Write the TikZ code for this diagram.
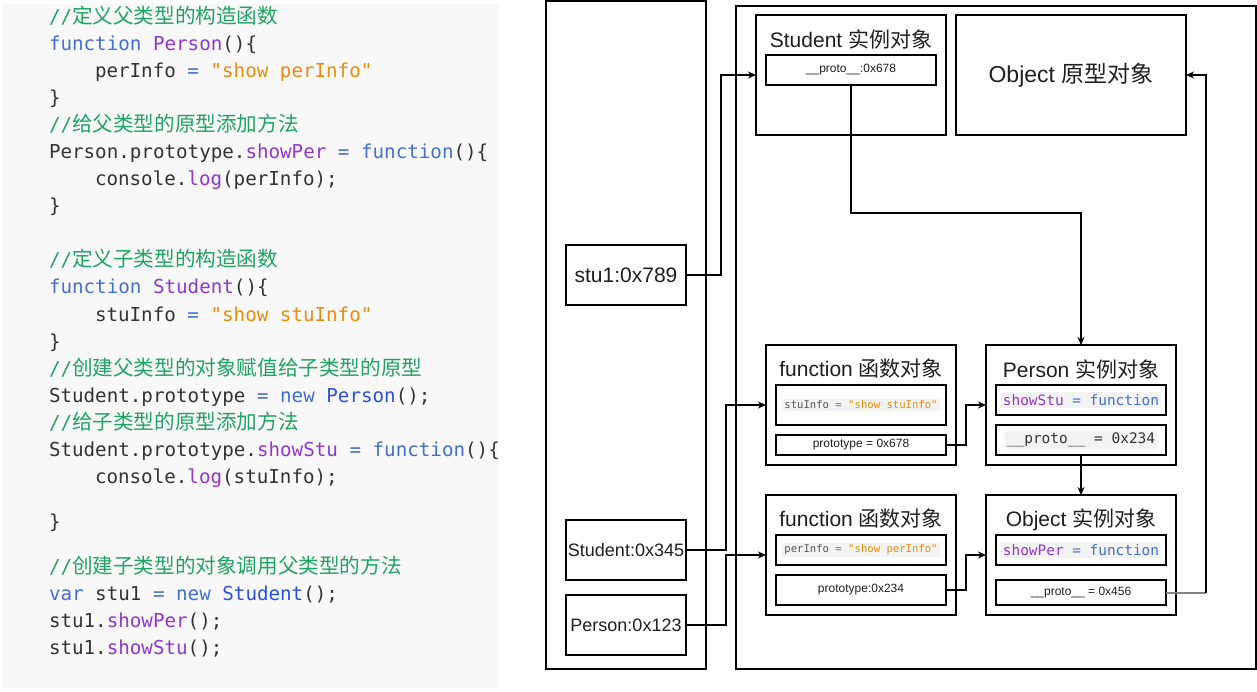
\documentclass[tikz,border=0pt]{standalone}
\usepackage{fontspec}
\setmainfont{Liberation Sans}
\setmonofont{DejaVu Sans Mono}
\newfontfamily\cjk{Noto Sans CJK SC}
\usetikzlibrary{arrows.meta}
\definecolor{codebg}{HTML}{F8F8F8}
\definecolor{snipbg}{HTML}{F3F3F3}
\definecolor{codetxt}{HTML}{333333}
\definecolor{cmgreen}{HTML}{1FA463}
\definecolor{kwblue}{HTML}{4170D0}
\definecolor{fnpurple}{HTML}{9236CC}
\definecolor{clblue}{HTML}{2750E0}
\definecolor{stor}{HTML}{E88B0A}
\definecolor{snipgray}{HTML}{555555}
\newcommand\cKw[1]{\textcolor{kwblue}{#1}}
\newcommand\cFn[1]{\textcolor{fnpurple}{#1}}
\newcommand\cCl[1]{\textcolor{clblue}{#1}}
\newcommand\cSt[1]{\textcolor{stor}{#1}}
\newcommand\cCm[1]{\textcolor{cmgreen}{//{\cjk\fontsize{20.6}{20.6}\selectfont #1}}}
\begin{document}
\begin{tikzpicture}[x=1pt,y=-1pt,
  codeline/.style={anchor=base west, inner sep=0, outer sep=0, text=codetxt,
    font=\ttfamily\fontsize{19.2}{19.2}\selectfont},
  box/.style={draw=black, line width=1.2pt, inner sep=0, outer sep=0, fill=white},
  titletxt/.style={inner sep=0, text=black!88, font=\fontsize{21}{21}\selectfont},
  smalltxt/.style={inner sep=0, text=black!88, font=\fontsize{12}{12}\selectfont},
  snip/.style={fill=snipbg, inner xsep=2pt, inner ysep=2pt, text=snipgray, font=\ttfamily},
  addrtxt/.style={inner sep=0, text=black!88},
  link/.style={draw=black, line width=1.2pt},
  arr/.style={link, -{Stealth[length=8pt,width=7pt]}}
]
\useasboundingbox (0,0) rectangle (1257,692);
% code panel
\fill[codebg] (2,4) rectangle (498,688);
\node[codeline] (c1) at (49,24) {\cCm{定义父类型的构造函数}};
\node[codeline] (c2) at (49,51) {\cKw{function} \cFn{Person}()\{};
\node[codeline] (c3) at (95,78) {perInfo \cKw{=} \cSt{"show perInfo"}};
\node[codeline] (c4) at (49,105) {\}};
\node[codeline] (c5) at (49,132) {\cCm{给父类型的原型添加方法}};
\node[codeline] (c6) at (49,159) {Person.prototype.\cFn{showPer} \cKw{=} \cKw{function}()\{};
\node[codeline] (c7) at (95,186) {console.\cFn{log}(perInfo);};
\node[codeline] (c8) at (49,213) {\}};
\node[codeline] (c9) at (49,267) {\cCm{定义子类型的构造函数}};
\node[codeline] (c10) at (49,294) {\cKw{function} \cFn{Student}()\{};
\node[codeline] (c11) at (95,321) {stuInfo \cKw{=} \cSt{"show stuInfo"}};
\node[codeline] (c12) at (49,348) {\}};
\node[codeline] (c13) at (49,375) {\cCm{创建父类型的对象赋值给子类型的原型}};
\node[codeline] (c14) at (49,402) {Student.prototype \cKw{=} \cKw{new} \cCl{Person}();};
\node[codeline] (c15) at (49,429) {\cCm{给子类型的原型添加方法}};
\node[codeline] (c16) at (49,456) {Student.prototype.\cFn{showStu} \cKw{=} \cKw{function}()\{};
\node[codeline] (c17) at (95,483) {console.\cFn{log}(stuInfo);};
\node[codeline] (c18) at (49,528) {\}};
\node[codeline] (c19) at (49,573) {\cCm{创建子类型的对象调用父类型的方法}};
\node[codeline] (c20) at (49,600) {\cKw{var} stu1 \cKw{=} \cKw{new} \cCl{Student}();};
\node[codeline] (c21) at (49,627) {stu1.\cFn{showPer}();};
\node[codeline] (c22) at (49,654) {stu1.\cFn{showStu}();};

% panels
\node[box, minimum width=160, minimum height=668] (stack) at (626,335) {};
\node[box, minimum width=520, minimum height=663] (heap) at (996,337.5) {};

% stack variables
\node[box, minimum width=120, minimum height=60] (stu1) at (626,275) {};
\node[addrtxt, font=\fontsize{21}{21}\selectfont] (stu1t) at (stu1) {stu1:0x789};
\node[box, minimum width=120, minimum height=60] (s345) at (626,550) {};
\node[addrtxt, font=\fontsize{18}{18}\selectfont] (s345t) at (s345) {Student:0x345};
\node[box, minimum width=120, minimum height=60] (p123) at (626,625) {};
\node[addrtxt, font=\fontsize{18}{18}\selectfont] (p123t) at (p123) {Person:0x123};

% Student instance
\node[box, minimum width=190, minimum height=120] (sinst) at (851,75) {};
\node[titletxt] (sinstt) at (851,39) {Student {\cjk 实例对象}};
\node[box, minimum width=170, minimum height=30, smalltxt] (sproto) at (851,70) {\_\_proto\_\_:0x678};

% Object prototype
\node[box, minimum width=230, minimum height=120] (oproto) at (1071,75) {};
\node[titletxt, font=\fontsize{23}{23}\selectfont] (oprotot) at (1071,75) {Object {\cjk 原型对象}};

% function object (Student)
\node[box, minimum width=190, minimum height=120] (f1) at (861,405) {};
\node[titletxt] (f1t) at (861,369) {function {\cjk 函数对象}};
\node[box, minimum width=170, minimum height=40] (f1code) at (861,405) {};
\node[snip, font=\ttfamily\fontsize{10.6}{10.6}\selectfont] (f1codet) at (f1code) {stuInfo \cKw{=} \cSt{"show stuInfo"}};
\node[box, minimum width=170, minimum height=20, smalltxt] (f1proto) at (861,445) {prototype = 0x678};

% Person instance
\node[box, minimum width=190, minimum height=120] (pinst) at (1081,405) {};
\node[titletxt] (pinstt) at (1081,369) {Person {\cjk 实例对象}};
\node[box, minimum width=170, minimum height=30] (pshow) at (1081,400) {};
\node[snip, font=\ttfamily\fontsize{14.4}{14.4}\selectfont] (pshowt) at (pshow) {\cFn{showStu} \cKw{=} \cKw{function}};
\node[box, minimum width=170, minimum height=30] (pproto) at (1081,440) {};
\node[snip, text=codetxt, font=\ttfamily\fontsize{14.5}{14.5}\selectfont] (pprotot) at (pproto) {\_\_proto\_\_ = 0x234};

% function object (Person)
\node[box, minimum width=190, minimum height=120] (f2) at (861,555) {};
\node[titletxt] (f2t) at (861,519) {function {\cjk 函数对象}};
\node[box, minimum width=170, minimum height=30] (f2code) at (861,550) {};
\node[snip, font=\ttfamily\fontsize{10.6}{10.6}\selectfont] (f2codet) at (f2code) {perInfo \cKw{=} \cSt{"show perInfo"}};
\node[box, minimum width=170, minimum height=30, smalltxt] (f2proto) at (861,590) {prototype:0x234};

% Object instance
\node[box, minimum width=190, minimum height=120] (oinst) at (1081,555) {};
\node[titletxt] (oinstt) at (1081,520) {Object {\cjk 实例对象}};
\node[box, minimum width=170, minimum height=30] (oshow) at (1081,550) {};
\node[snip, font=\ttfamily\fontsize{14.4}{14.4}\selectfont] (oshowt) at (oshow) {\cFn{showPer} \cKw{=} \cKw{function}};
\node[box, minimum width=170, minimum height=25, smalltxt] (oproto2) at (1081,592.5) {\_\_proto\_\_ = 0x456};

% connectors
\draw[arr] (stu1.east) -- ++(35,0) |- (sinst.west);
\draw[arr] (s345.east) -- ++(40,0) |- (f1.west);
\draw[arr] (p123.east) -- ++(40,0) |- (f2.west);
\draw[arr] (sproto.south) -- ++(0,128) -| (pinst.north);
\draw[arr] (f1proto.east) -- ++(20,0) |- (pinst.west);
\draw[arr] (pproto.south) -- (oinst.north);
\draw[arr] (f2proto.east) -- ++(20,0) |- (oinst.west);
\path (oproto2.east) ++(40,0) coordinate (bend);
\draw[line width=2pt, draw=black!50] (oproto2.east) -- (bend);
\draw[arr] (bend) |- (oproto.east);
\end{tikzpicture}
\end{document}
